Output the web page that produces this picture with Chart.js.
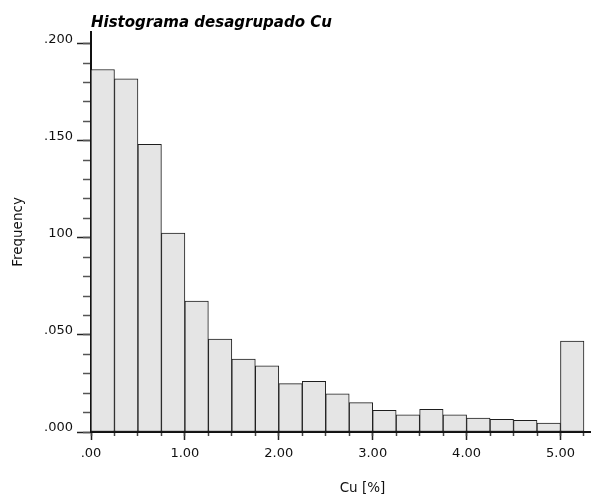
<!DOCTYPE html>
<html>
<head>
<meta charset="utf-8">
<script src="https://cdn.jsdelivr.net/npm/chart.js@4/dist/chart.umd.min.js"></script>
<style>
  html, body { margin: 0; padding: 0; background: #ffffff; }
  #wrap { width: 591px; height: 497px; }
</style>
</head>
<body>
<div id="wrap"><canvas id="c" width="591" height="497"></canvas></div>
<script>
// ---- data ----
const binLeft = [0.00, 0.25, 0.50, 0.75, 1.00, 1.25, 1.50, 1.75, 2.00, 2.25, 2.50,
                 2.75, 3.00, 3.25, 3.50, 3.75, 4.00, 4.25, 4.50, 4.75, 5.00];
const binWidth = 0.25;
const frequency = [0.1867, 0.1819, 0.1481, 0.1024, 0.0674, 0.0479, 0.0376, 0.0341, 0.0249, 0.0261, 0.0197,
                   0.0151, 0.0112, 0.0088, 0.0117, 0.0088, 0.0072, 0.0065, 0.0060, 0.0046, 0.0468];
const xTickLabels = ['.00', '1.00', '2.00', '3.00', '4.00', '5.00'];
const yTickLabels = ['.000', '.050', '100', '.150', '.200'];
const titleText = 'Histograma desagrupado Cu';
const xTitle = 'Cu [%]';
const yTitle = 'Frequency';

const X_MAX = 5.325;
const Y_MAX = 0.206;

const points = binLeft.map((b, i) => ({ x: b + binWidth / 2, y: frequency[i] }));

const tickFont = { family: 'DejaVu Sans', size: 13 };
const axisTitleFont = { family: 'DejaVu Sans', size: 13.5 };

new Chart(document.getElementById('c'), {
  type: 'bar',
  data: {
    datasets: [{
      data: points,
      backgroundColor: '#e5e5e5',
      borderColor: '#1e1e1e',
      borderWidth: 1,
      borderSkipped: false,
      barPercentage: 1,
      categoryPercentage: 1,
      xAxisID: 'x',
      yAxisID: 'y'
    }]
  },
  options: {
    responsive: false,
    animation: false,
    devicePixelRatio: 1,
    layout: { padding: 0 },
    plugins: { legend: { display: false }, tooltip: { enabled: false }, title: { display: false } },
    scales: {
      x: {
        type: 'linear', position: 'bottom', weight: 1,
        min: 0, max: X_MAX, offset: false,
        grid: { display: true, offset: false, drawOnChartArea: false, drawTicks: true, tickLength: 8, tickColor: '#222', tickWidth: 1.5 },
        border: { display: false },
        ticks: {
          stepSize: 1, includeBounds: false, autoSkip: false, maxRotation: 0, padding: 6,
          color: '#111', font: tickFont,
          callback: (v, i) => xTickLabels[i] !== undefined ? xTickLabels[i] : ''
        },
        title: { display: true, text: '          ' + xTitle, color: '#111', font: axisTitleFont, padding: { top: 0, bottom: 0 } },
        afterFit: (s) => { s.height = 65; }
      },
      xMinor: {
        type: 'linear', position: 'bottom', weight: 0,
        min: 0, max: X_MAX, offset: false,
        grid: { display: true, offset: false, drawOnChartArea: false, drawTicks: true, tickLength: 4, tickColor: '#444', tickWidth: 1.5 },
        border: { display: true, color: '#111', width: 2 },
        ticks: { display: false, stepSize: 0.25, includeBounds: false, autoSkip: false },
        afterFit: (s) => { s.height = 0; }
      },
      xTop: {
        type: 'linear', position: 'top',
        min: 0, max: 1,
        grid: { display: false },
        border: { display: false },
        ticks: { display: false },
        title: { display: true, text: titleText, align: 'start', color: '#000',
                 font: { family: 'DejaVu Sans', size: 15, weight: 'bold', style: 'italic' },
                 padding: { top: 14, bottom: 0 } },
        afterFit: (s) => { s.height = 32; }
      },
      y: {
        type: 'linear', position: 'left', weight: 1,
        min: 0, max: Y_MAX,
        grid: { display: true, drawOnChartArea: false, drawTicks: true, tickLength: 14, tickColor: '#222', tickWidth: 1.5 },
        border: { display: false },
        ticks: {
          stepSize: 0.05, includeBounds: false, autoSkip: false, padding: 4, labelOffset: -4,
          color: '#111', font: tickFont,
          callback: (v, i) => yTickLabels[i] !== undefined ? yTickLabels[i] : ''
        },
        title: { display: true, text: yTitle, color: '#111', font: axisTitleFont, padding: { top: 10, bottom: 0 } },
        afterFit: (s) => { s.width = 91; }
      },
      yMinor: {
        type: 'linear', position: 'left', weight: 0,
        min: 0, max: Y_MAX,
        grid: { display: true, drawOnChartArea: false, drawTicks: true, tickLength: 8, tickColor: '#555', tickWidth: 1.5 },
        border: { display: true, color: '#111', width: 2 },
        ticks: { display: false, stepSize: 0.01, includeBounds: false, autoSkip: false },
        afterFit: (s) => { s.width = 0; }
      }
    }
  }
});
</script>
</body>
</html>
